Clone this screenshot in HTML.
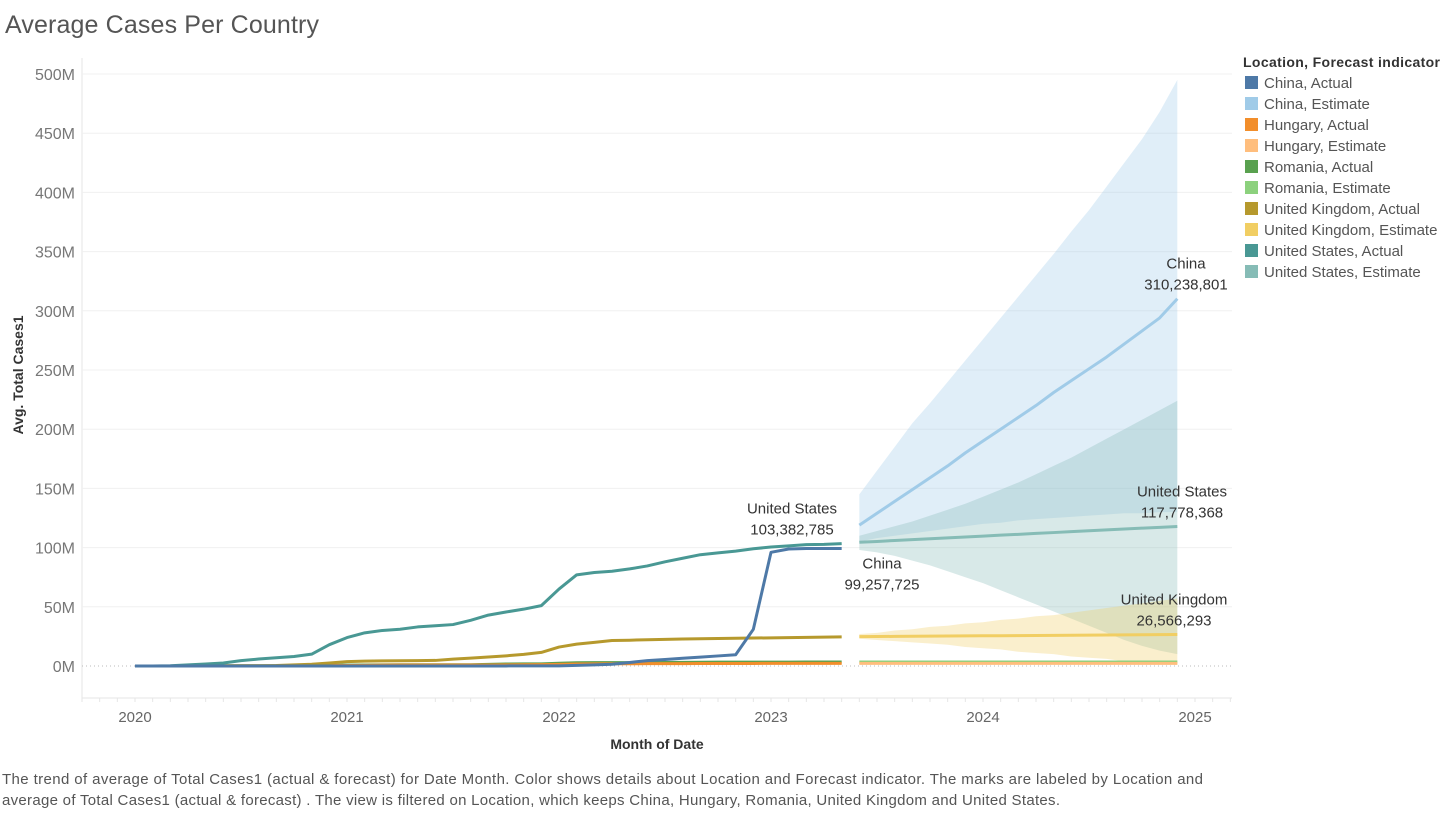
<!DOCTYPE html>
<html><head><meta charset="utf-8"><style>
body{margin:0;background:#fff;font-family:"Liberation Sans",sans-serif;}
svg text{font-family:"Liberation Sans",sans-serif;}
</style></head><body>
<svg id="chart" width="1454" height="811" xmlns="http://www.w3.org/2000/svg">
<text x="5" y="33" font-size="25" fill="#555" textLength="314">Average Cases Per Country</text>
<g id="grid"></g>
<g id="yticks"></g>
<g id="xticks"></g>
<g id="bands"></g>
<g id="lines"></g>
<g id="labels"></g>
<text transform="translate(23,375) rotate(-90)" text-anchor="middle" font-size="14" font-weight="bold" fill="#333">Avg. Total Cases1</text>
<text x="657" y="749" text-anchor="middle" font-size="14" font-weight="bold" fill="#333">Month of Date</text>
<g id="legend">
<text x="1243" y="67" font-size="14" font-weight="bold" fill="#333" textLength="197">Location, Forecast indicator</text>
</g>
<text x="2" y="784" font-size="15" fill="#555" textLength="1201">The trend of average of Total Cases1 (actual &amp; forecast)  for Date Month.  Color shows details about Location and Forecast indicator.  The marks are labeled by Location and</text>
<text x="2" y="805" font-size="15" fill="#555" textLength="1058">average of Total Cases1 (actual &amp; forecast) . The view is filtered on Location, which keeps China, Hungary, Romania, United Kingdom and United States.</text>
</svg>
<script>
const yTicks=[0,50,100,150,200,250,300,350,400,450,500];
const xYears=[2020,2021,2022,2023,2024,2025];
const usActual=[0,0,0.2,1,1.7,2.5,4.5,5.9,7,8,10,18,24,28,30,31,33,34,35,38.6,43,45.6,48,51,65,77,79,80,82,84.5,88,91,94,95.5,97,99,100.5,101.5,102.5,102.7,103.4];
const chinaActual=[0,0,0,0,0,0,0,0,0,0,0,0,0,0,0,0,0,0,0,0,0,0.05,0.08,0.1,0.1,0.5,1,1.5,3,4.5,5.5,6.5,7.5,8.5,9.5,31,96,98.8,99.2,99.25,99.26];
const ukActual=[0,0,0,0.1,0.2,0.3,0.3,0.3,0.4,1,1.5,2.5,3.7,4.1,4.3,4.4,4.5,4.7,5.8,6.7,7.6,8.6,9.8,11.5,16,18.5,20,21.5,21.8,22.2,22.5,22.8,23,23.2,23.4,23.6,23.8,24,24.2,24.4,24.6];
const romaniaActual=[0,0,0,0,0,0,0.1,0.1,0.2,0.3,0.5,0.6,0.7,0.8,1,1.05,1.08,1.08,1.1,1.1,1.4,1.7,1.8,1.8,2.3,2.7,2.8,2.9,2.9,2.9,3,3.1,3.2,3.25,3.3,3.3,3.3,3.3,3.35,3.35,3.35];
const hungaryActual=[0,0,0,0,0,0,0,0.05,0.1,0.2,0.3,0.4,0.4,0.5,0.7,0.8,0.8,0.8,0.8,0.8,0.85,0.9,1.1,1.2,1.4,1.7,1.8,1.9,1.9,2,2,2.05,2.1,2.1,2.15,2.15,2.2,2.2,2.2,2.2,2.2];
const chinaEst=[119,129,139,149,159,169,180,190,200,210,220,231,241,251,261,272,283,294,310.2];
const chinaHi=[145,165,185,205,222,240,258,276,294,312,330,348,367,385,405,425,445,468,495];
const chinaLo=[105,108,110,112,114,116,118,120,121,123,124,125,126,127,128,129,129,130,130];
const usEst=[104.5,105.2,106,106.7,107.5,108.2,109,109.7,110.5,111.2,112,112.7,113.5,114.2,115,115.7,116.4,117.1,117.8];
const usHi=[110,114,118,122,127,132,137,143,149,155,162,169,176,184,192,200,208,216,224];
const usLo=[98,96,93,89,85,80,75,70,64,58,52,46,40,34,28,22,17,13,10];
const ukEst=[24.8,24.9,25,25.1,25.2,25.3,25.4,25.5,25.6,25.7,25.8,25.9,26,26.1,26.2,26.3,26.4,26.5,26.6];
const ukHi=[27,28,30,31,33,34,36,37,39,40,42,43,45,47,49,51,53,55,57];
const ukLo=[23,22,21,20,19,18,16,15,14,12,11,10,8,7,6,4,3,2,1];
const romaniaEst=[3.4,3.4,3.4,3.4,3.4,3.4,3.4,3.4,3.4,3.4,3.4,3.4,3.4,3.4,3.4,3.4,3.4,3.4,3.4];
const hungaryEst=[2.2,2.2,2.2,2.2,2.2,2.2,2.2,2.2,2.2,2.2,2.2,2.2,2.2,2.2,2.2,2.2,2.2,2.2,2.2];
const legendLabels=["China, Actual","China, Estimate","Hungary, Actual","Hungary, Estimate","Romania, Actual","Romania, Estimate","United Kingdom, Actual","United Kingdom, Estimate","United States, Actual","United States, Estimate"];
const legendColors=["#4e79a7","#a0cbe8","#f28e2b","#ffbe7d","#59a14f","#8cd17d","#b6992d","#f1ce63","#499894","#86bcb6"];

const NS="http://www.w3.org/2000/svg";
const y=v=>666-v*1.184;
const xm=i=>135+i*(212/12);
const xy=yr=>135+(yr-2020)*212;
function mk(tag,attrs,parent){const e=document.createElementNS(NS,tag);for(const k in attrs)e.setAttribute(k,attrs[k]);parent.appendChild(e);return e;}
const grid=document.getElementById('grid'),yt=document.getElementById('yticks'),xt=document.getElementById('xticks');
mk('line',{x1:82,y1:58,x2:82,y2:698,stroke:'#e6e6e6'},grid);
mk('line',{x1:82,y1:698,x2:1232,y2:698,stroke:'#e6e6e6'},grid);
yTicks.forEach(v=>{
  if(v>0){const g=mk('line',{x1:82,y1:y(v),x2:1232,y2:y(v),stroke:'#f0f0f0'},grid);
  
  }
  const t=mk('text',{x:75,y:y(v)+6,'text-anchor':'end','font-size':16,fill:'#777'},yt);
  t.textContent=v+'M';
  
  
});
mk('line',{x1:82,y1:666,x2:1232,y2:666,stroke:'#bbb','stroke-dasharray':'1,3'},grid);
for(let m=-3;m<=63;m++){const xx=xm(m);if(xx<82||xx>1232)continue;mk('line',{x1:xx,y1:698,x2:xx,y2:702,stroke:'#e6e6e6'},xt);}
xYears.forEach(yr=>{
  const t=mk('text',{x:xy(yr),y:722,'text-anchor':'middle','font-size':15,fill:'#666'},xt);
  t.textContent=yr;
  
  
});
const bands=document.getElementById('bands'),lines=document.getElementById('lines');
const E0=41;
function band(hi,lo,col,name){
  let d='';hi.forEach((v,i)=>d+=(i?'L':'M')+xm(E0+i)+','+y(v));
  for(let i=lo.length-1;i>=0;i--)d+='L'+xm(E0+i)+','+y(lo[i]);
  const p=mk('path',{d:d+'Z',fill:col,'fill-opacity':0.32},bands);
  
  
}
band(chinaHi,chinaLo,'#a0cbe8','china-forecast-band');
band(usHi,usLo,'#86bcb6','us-forecast-band');
band(ukHi,ukLo,'#f1ce63','uk-forecast-band');
function line(arr,start,col,name){
  const pts=arr.map((v,i)=>xm(start+i)+','+y(v)).join(' ');
  const p=mk('polyline',{points:pts,fill:'none',stroke:col,'stroke-width':3,'stroke-linejoin':'round'},lines);
  
  
}
line(romaniaActual,0,'#59a14f','romania-actual-line');
line(hungaryActual,0,'#f28e2b','hungary-actual-line');
line(ukActual,0,'#b6992d','uk-actual-line');
line(usActual,0,'#499894','us-actual-line');
line(chinaActual,0,'#4e79a7','china-actual-line');
line(romaniaEst,E0,'#8cd17d','romania-estimate-line');
line(hungaryEst,E0,'#ffbe7d','hungary-estimate-line');
line(ukEst,E0,'#f1ce63','uk-estimate-line');
line(usEst,E0,'#86bcb6','us-estimate-line');
line(chinaEst,E0,'#a0cbe8','china-estimate-line');
const lab=document.getElementById('labels');
function label(x,yy,a,b,name){
  const t1=mk('text',{x:x,y:yy,'text-anchor':'middle','font-size':15,fill:'#333'},lab);t1.textContent=a;
  
  
  const t2=mk('text',{x:x,y:yy+21,'text-anchor':'middle','font-size':15,fill:'#333'},lab);t2.textContent=b;
  
  
}
label(792,y(usActual[40])-30,'United States','103,382,785','us-actual-label');
label(882,y(chinaActual[40])+20,'China','99,257,725','china-actual-label');
label(1186,y(chinaEst[18])-30,'China','310,238,801','china-estimate-label');
label(1182,y(usEst[18])-30,'United States','117,778,368','us-estimate-label');
label(1174,y(ukEst[18])-30,'United Kingdom','26,566,293','uk-estimate-label');
const lg=document.getElementById('legend');
legendLabels.forEach((l,i)=>{
  const yy=76+i*21;
  const r=mk('rect',{x:1245,y:yy,width:13,height:13,fill:legendColors[i]},lg);
  
  
  const t=mk('text',{x:1264,y:yy+12,'font-size':15,fill:'#555'},lg);t.textContent=l;
  
  
});
</script>
</body></html>
